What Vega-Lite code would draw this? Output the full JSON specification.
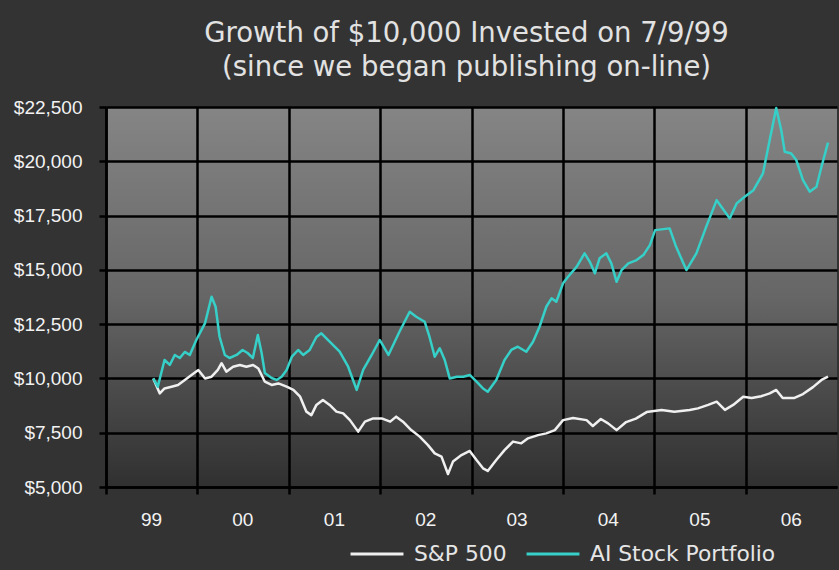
{
  "$schema": "https://vega.github.io/schema/vega-lite/v6.json",
  "autosize": {"type": "none"},
  "width": 731,
  "height": 380,
  "padding": {"left": 106, "top": 107, "right": 2, "bottom": 83},
  "background": "#333333",
  "title": {
    "text": ["Growth of $10,000 Invested on 7/9/99", "(since we began publishing on-line)"],
    "frame": "group",
    "anchor": "middle",
    "offset": 17,
    "dx": -5,
    "font": "DejaVu Sans",
    "fontSize": 27.5,
    "fontWeight": "normal",
    "lineHeight": 34,
    "color": "#e2e2e2"
  },
  "view": {
    "stroke": null,
    "fill": {
      "gradient": "linear",
      "x1": 0, "y1": 0, "x2": 0, "y2": 1,
      "stops": [
        {"offset": 0, "color": "#858585"},
        {"offset": 0.5, "color": "#666666"},
        {"offset": 0.75, "color": "#4a4a4a"},
        {"offset": 1, "color": "#303030"}
      ]
    }
  },
  "data": {
    "values": [
      {"date": "1999-07-09", "series": "S&P 500", "value": 10000},
      {"date": "1999-08-04", "series": "S&P 500", "value": 9310},
      {"date": "1999-08-23", "series": "S&P 500", "value": 9540},
      {"date": "1999-09-20", "series": "S&P 500", "value": 9620},
      {"date": "1999-10-16", "series": "S&P 500", "value": 9700},
      {"date": "1999-11-12", "series": "S&P 500", "value": 9930},
      {"date": "1999-12-09", "series": "S&P 500", "value": 10160},
      {"date": "2000-01-05", "series": "S&P 500", "value": 10390},
      {"date": "2000-02-01", "series": "S&P 500", "value": 10000},
      {"date": "2000-02-27", "series": "S&P 500", "value": 10080},
      {"date": "2000-03-23", "series": "S&P 500", "value": 10390},
      {"date": "2000-04-07", "series": "S&P 500", "value": 10700},
      {"date": "2000-04-26", "series": "S&P 500", "value": 10310},
      {"date": "2000-05-23", "series": "S&P 500", "value": 10540},
      {"date": "2000-06-19", "series": "S&P 500", "value": 10620},
      {"date": "2000-07-15", "series": "S&P 500", "value": 10540},
      {"date": "2000-08-11", "series": "S&P 500", "value": 10620},
      {"date": "2000-09-01", "series": "S&P 500", "value": 10460},
      {"date": "2000-09-27", "series": "S&P 500", "value": 9850},
      {"date": "2000-10-24", "series": "S&P 500", "value": 9700},
      {"date": "2000-11-20", "series": "S&P 500", "value": 9770},
      {"date": "2000-12-23", "series": "S&P 500", "value": 9620},
      {"date": "2001-01-19", "series": "S&P 500", "value": 9470},
      {"date": "2001-02-15", "series": "S&P 500", "value": 9160},
      {"date": "2001-03-12", "series": "S&P 500", "value": 8470},
      {"date": "2001-04-01", "series": "S&P 500", "value": 8310},
      {"date": "2001-04-21", "series": "S&P 500", "value": 8780},
      {"date": "2001-05-17", "series": "S&P 500", "value": 9010},
      {"date": "2001-06-13", "series": "S&P 500", "value": 8780},
      {"date": "2001-07-10", "series": "S&P 500", "value": 8470},
      {"date": "2001-08-06", "series": "S&P 500", "value": 8390},
      {"date": "2001-09-02", "series": "S&P 500", "value": 8080},
      {"date": "2001-10-05", "series": "S&P 500", "value": 7550},
      {"date": "2001-11-01", "series": "S&P 500", "value": 8010},
      {"date": "2001-12-04", "series": "S&P 500", "value": 8160},
      {"date": "2002-01-07", "series": "S&P 500", "value": 8160},
      {"date": "2002-02-10", "series": "S&P 500", "value": 8010},
      {"date": "2002-03-06", "series": "S&P 500", "value": 8240},
      {"date": "2002-04-02", "series": "S&P 500", "value": 8010},
      {"date": "2002-05-05", "series": "S&P 500", "value": 7620},
      {"date": "2002-06-08", "series": "S&P 500", "value": 7320},
      {"date": "2002-07-11", "series": "S&P 500", "value": 6930},
      {"date": "2002-08-07", "series": "S&P 500", "value": 6550},
      {"date": "2002-09-03", "series": "S&P 500", "value": 6400},
      {"date": "2002-09-29", "series": "S&P 500", "value": 5600},
      {"date": "2002-10-19", "series": "S&P 500", "value": 6170},
      {"date": "2002-11-22", "series": "S&P 500", "value": 6470},
      {"date": "2002-12-25", "series": "S&P 500", "value": 6660},
      {"date": "2003-01-21", "series": "S&P 500", "value": 6240},
      {"date": "2003-02-16", "series": "S&P 500", "value": 5860},
      {"date": "2003-03-07", "series": "S&P 500", "value": 5740},
      {"date": "2003-04-10", "series": "S&P 500", "value": 6240},
      {"date": "2003-05-13", "series": "S&P 500", "value": 6700},
      {"date": "2003-06-16", "series": "S&P 500", "value": 7090},
      {"date": "2003-07-19", "series": "S&P 500", "value": 7010},
      {"date": "2003-08-15", "series": "S&P 500", "value": 7240},
      {"date": "2003-09-24", "series": "S&P 500", "value": 7390},
      {"date": "2003-10-27", "series": "S&P 500", "value": 7470},
      {"date": "2003-11-30", "series": "S&P 500", "value": 7620},
      {"date": "2004-01-02", "series": "S&P 500", "value": 8080},
      {"date": "2004-02-11", "series": "S&P 500", "value": 8180},
      {"date": "2004-04-05", "series": "S&P 500", "value": 8080},
      {"date": "2004-04-30", "series": "S&P 500", "value": 7810},
      {"date": "2004-06-01", "series": "S&P 500", "value": 8130},
      {"date": "2004-06-30", "series": "S&P 500", "value": 7930},
      {"date": "2004-08-03", "series": "S&P 500", "value": 7620},
      {"date": "2004-09-10", "series": "S&P 500", "value": 7990},
      {"date": "2004-10-19", "series": "S&P 500", "value": 8150},
      {"date": "2004-12-01", "series": "S&P 500", "value": 8450},
      {"date": "2005-01-30", "series": "S&P 500", "value": 8550},
      {"date": "2005-03-22", "series": "S&P 500", "value": 8470},
      {"date": "2005-05-22", "series": "S&P 500", "value": 8550},
      {"date": "2005-06-24", "series": "S&P 500", "value": 8620},
      {"date": "2005-08-04", "series": "S&P 500", "value": 8780},
      {"date": "2005-09-07", "series": "S&P 500", "value": 8930},
      {"date": "2005-10-10", "series": "S&P 500", "value": 8550},
      {"date": "2005-11-12", "series": "S&P 500", "value": 8780},
      {"date": "2005-12-22", "series": "S&P 500", "value": 9160},
      {"date": "2006-01-25", "series": "S&P 500", "value": 9100},
      {"date": "2006-03-04", "series": "S&P 500", "value": 9180},
      {"date": "2006-04-07", "series": "S&P 500", "value": 9310},
      {"date": "2006-05-03", "series": "S&P 500", "value": 9470},
      {"date": "2006-05-29", "series": "S&P 500", "value": 9100},
      {"date": "2006-07-15", "series": "S&P 500", "value": 9100},
      {"date": "2006-08-18", "series": "S&P 500", "value": 9280},
      {"date": "2006-09-27", "series": "S&P 500", "value": 9600},
      {"date": "2006-10-31", "series": "S&P 500", "value": 9930},
      {"date": "2006-11-26", "series": "S&P 500", "value": 10080},
      {"date": "1999-07-09", "series": "AI Stock Portfolio", "value": 10000},
      {"date": "1999-07-27", "series": "AI Stock Portfolio", "value": 9620},
      {"date": "1999-08-23", "series": "AI Stock Portfolio", "value": 10850},
      {"date": "1999-09-13", "series": "AI Stock Portfolio", "value": 10620},
      {"date": "1999-10-03", "series": "AI Stock Portfolio", "value": 11080},
      {"date": "1999-10-23", "series": "AI Stock Portfolio", "value": 10940},
      {"date": "1999-11-12", "series": "AI Stock Portfolio", "value": 11220},
      {"date": "1999-12-02", "series": "AI Stock Portfolio", "value": 11080},
      {"date": "1999-12-28", "series": "AI Stock Portfolio", "value": 11770},
      {"date": "2000-02-01", "series": "AI Stock Portfolio", "value": 12550},
      {"date": "2000-02-27", "series": "AI Stock Portfolio", "value": 13760},
      {"date": "2000-03-14", "series": "AI Stock Portfolio", "value": 13300},
      {"date": "2000-03-30", "series": "AI Stock Portfolio", "value": 11920},
      {"date": "2000-04-20", "series": "AI Stock Portfolio", "value": 11080},
      {"date": "2000-05-09", "series": "AI Stock Portfolio", "value": 10940},
      {"date": "2000-06-06", "series": "AI Stock Portfolio", "value": 11080},
      {"date": "2000-06-30", "series": "AI Stock Portfolio", "value": 11310},
      {"date": "2000-07-20", "series": "AI Stock Portfolio", "value": 11170},
      {"date": "2000-08-10", "series": "AI Stock Portfolio", "value": 10940},
      {"date": "2000-08-30", "series": "AI Stock Portfolio", "value": 12000},
      {"date": "2000-09-14", "series": "AI Stock Portfolio", "value": 11170},
      {"date": "2000-09-27", "series": "AI Stock Portfolio", "value": 10250},
      {"date": "2000-10-24", "series": "AI Stock Portfolio", "value": 10020},
      {"date": "2000-11-13", "series": "AI Stock Portfolio", "value": 9930},
      {"date": "2000-12-03", "series": "AI Stock Portfolio", "value": 10080},
      {"date": "2000-12-23", "series": "AI Stock Portfolio", "value": 10390},
      {"date": "2001-01-13", "series": "AI Stock Portfolio", "value": 11000},
      {"date": "2001-02-07", "series": "AI Stock Portfolio", "value": 11310},
      {"date": "2001-02-27", "series": "AI Stock Portfolio", "value": 11080},
      {"date": "2001-03-25", "series": "AI Stock Portfolio", "value": 11310},
      {"date": "2001-04-21", "series": "AI Stock Portfolio", "value": 11910},
      {"date": "2001-05-11", "series": "AI Stock Portfolio", "value": 12080},
      {"date": "2001-06-13", "series": "AI Stock Portfolio", "value": 11690},
      {"date": "2001-07-23", "series": "AI Stock Portfolio", "value": 11230},
      {"date": "2001-08-26", "series": "AI Stock Portfolio", "value": 10540},
      {"date": "2001-09-29", "series": "AI Stock Portfolio", "value": 9470},
      {"date": "2001-10-25", "series": "AI Stock Portfolio", "value": 10390},
      {"date": "2001-11-28", "series": "AI Stock Portfolio", "value": 11080},
      {"date": "2001-12-30", "series": "AI Stock Portfolio", "value": 11770},
      {"date": "2002-02-03", "series": "AI Stock Portfolio", "value": 11080},
      {"date": "2002-03-19", "series": "AI Stock Portfolio", "value": 12150},
      {"date": "2002-04-29", "series": "AI Stock Portfolio", "value": 13070},
      {"date": "2002-05-25", "series": "AI Stock Portfolio", "value": 12840},
      {"date": "2002-06-28", "series": "AI Stock Portfolio", "value": 12610},
      {"date": "2002-07-17", "series": "AI Stock Portfolio", "value": 11920},
      {"date": "2002-08-07", "series": "AI Stock Portfolio", "value": 11000},
      {"date": "2002-08-27", "series": "AI Stock Portfolio", "value": 11390},
      {"date": "2002-09-16", "series": "AI Stock Portfolio", "value": 10850},
      {"date": "2002-10-06", "series": "AI Stock Portfolio", "value": 10000},
      {"date": "2002-11-03", "series": "AI Stock Portfolio", "value": 10080},
      {"date": "2002-11-29", "series": "AI Stock Portfolio", "value": 10080},
      {"date": "2002-12-25", "series": "AI Stock Portfolio", "value": 10160},
      {"date": "2003-01-21", "series": "AI Stock Portfolio", "value": 9850},
      {"date": "2003-02-16", "series": "AI Stock Portfolio", "value": 9540},
      {"date": "2003-03-07", "series": "AI Stock Portfolio", "value": 9390},
      {"date": "2003-04-10", "series": "AI Stock Portfolio", "value": 9930},
      {"date": "2003-05-13", "series": "AI Stock Portfolio", "value": 10850},
      {"date": "2003-06-09", "series": "AI Stock Portfolio", "value": 11310},
      {"date": "2003-07-05", "series": "AI Stock Portfolio", "value": 11460},
      {"date": "2003-08-08", "series": "AI Stock Portfolio", "value": 11230},
      {"date": "2003-09-04", "series": "AI Stock Portfolio", "value": 11690},
      {"date": "2003-09-30", "series": "AI Stock Portfolio", "value": 12380},
      {"date": "2003-10-27", "series": "AI Stock Portfolio", "value": 13300},
      {"date": "2003-11-17", "series": "AI Stock Portfolio", "value": 13690},
      {"date": "2003-12-06", "series": "AI Stock Portfolio", "value": 13530},
      {"date": "2004-01-02", "series": "AI Stock Portfolio", "value": 14380},
      {"date": "2004-01-22", "series": "AI Stock Portfolio", "value": 14680},
      {"date": "2004-02-25", "series": "AI Stock Portfolio", "value": 15140},
      {"date": "2004-03-28", "series": "AI Stock Portfolio", "value": 15760},
      {"date": "2004-04-18", "series": "AI Stock Portfolio", "value": 15370},
      {"date": "2004-05-08", "series": "AI Stock Portfolio", "value": 14840},
      {"date": "2004-05-27", "series": "AI Stock Portfolio", "value": 15530},
      {"date": "2004-06-23", "series": "AI Stock Portfolio", "value": 15760},
      {"date": "2004-07-13", "series": "AI Stock Portfolio", "value": 15300},
      {"date": "2004-08-03", "series": "AI Stock Portfolio", "value": 14450},
      {"date": "2004-08-23", "series": "AI Stock Portfolio", "value": 14990},
      {"date": "2004-09-19", "series": "AI Stock Portfolio", "value": 15300},
      {"date": "2004-10-22", "series": "AI Stock Portfolio", "value": 15450},
      {"date": "2004-11-18", "series": "AI Stock Portfolio", "value": 15680},
      {"date": "2004-12-14", "series": "AI Stock Portfolio", "value": 16140},
      {"date": "2005-01-04", "series": "AI Stock Portfolio", "value": 16830},
      {"date": "2005-03-03", "series": "AI Stock Portfolio", "value": 16910},
      {"date": "2005-03-29", "series": "AI Stock Portfolio", "value": 16060},
      {"date": "2005-05-09", "series": "AI Stock Portfolio", "value": 14990},
      {"date": "2005-06-18", "series": "AI Stock Portfolio", "value": 15760},
      {"date": "2005-07-27", "series": "AI Stock Portfolio", "value": 16980},
      {"date": "2005-09-07", "series": "AI Stock Portfolio", "value": 18210},
      {"date": "2005-10-10", "series": "AI Stock Portfolio", "value": 17680},
      {"date": "2005-10-29", "series": "AI Stock Portfolio", "value": 17370},
      {"date": "2005-11-26", "series": "AI Stock Portfolio", "value": 18060},
      {"date": "2005-12-28", "series": "AI Stock Portfolio", "value": 18370},
      {"date": "2006-02-01", "series": "AI Stock Portfolio", "value": 18670},
      {"date": "2006-03-11", "series": "AI Stock Portfolio", "value": 19440},
      {"date": "2006-04-07", "series": "AI Stock Portfolio", "value": 20980},
      {"date": "2006-05-03", "series": "AI Stock Portfolio", "value": 22450},
      {"date": "2006-05-23", "series": "AI Stock Portfolio", "value": 21440},
      {"date": "2006-06-06", "series": "AI Stock Portfolio", "value": 20440},
      {"date": "2006-07-02", "series": "AI Stock Portfolio", "value": 20360},
      {"date": "2006-07-22", "series": "AI Stock Portfolio", "value": 20060},
      {"date": "2006-08-18", "series": "AI Stock Portfolio", "value": 19130},
      {"date": "2006-09-14", "series": "AI Stock Portfolio", "value": 18600},
      {"date": "2006-10-11", "series": "AI Stock Portfolio", "value": 18830},
      {"date": "2006-10-31", "series": "AI Stock Portfolio", "value": 19750},
      {"date": "2006-11-26", "series": "AI Stock Portfolio", "value": 20860}
    ]
  },
  "mark": {"type": "line", "strokeWidth": 2.5, "strokeJoin": "round"},
  "encoding": {
    "x": {
      "field": "date",
      "type": "temporal",
      "scale": {
        "type": "utc",
        "domain": [
          {"year": 1999, "month": 1, "date": 1, "utc": true},
          {"year": 2007, "month": 1, "date": 1, "utc": true}
        ]
      },
      "axis": {
        "title": null,
        "values": [
          {"year": 1999, "month": 1, "date": 1, "utc": true},
          {"year": 2000, "month": 1, "date": 1, "utc": true},
          {"year": 2001, "month": 1, "date": 1, "utc": true},
          {"year": 2002, "month": 1, "date": 1, "utc": true},
          {"year": 2003, "month": 1, "date": 1, "utc": true},
          {"year": 2004, "month": 1, "date": 1, "utc": true},
          {"year": 2005, "month": 1, "date": 1, "utc": true},
          {"year": 2006, "month": 1, "date": 1, "utc": true}
        ],
        "labelExpr": "utcFormat(datum.value, '%y')",
        "labelOffset": 45,
        "labelPadding": 16,
        "labelFlush": false,
        "labelOverlap": false
      }
    },
    "y": {
      "field": "value",
      "type": "quantitative",
      "scale": {"domain": [5000, 22500], "nice": false, "zero": false},
      "axis": {
        "title": null,
        "values": [5000, 7500, 10000, 12500, 15000, 17500, 20000, 22500],
        "format": "$,.0f",
        "labelPadding": 17
      }
    },
    "color": {
      "field": "series",
      "type": "nominal",
      "scale": {
        "domain": ["S&P 500", "AI Stock Portfolio"],
        "range": ["#f0f0f0", "#36d0c8"]
      },
      "legend": {
        "title": null,
        "orient": "none",
        "direction": "horizontal",
        "legendX": 243,
        "legendY": 419,
        "symbolType": "stroke",
        "symbolSize": 2800,
        "symbolStrokeWidth": 3,
        "labelFont": "DejaVu Sans",
        "labelFontSize": 21.8,
        "labelColor": "#e6e6e6",
        "labelOffset": 9,
        "columnPadding": 13,
        "labelLimit": 400
      }
    }
  },
  "config": {
    "axis": {
      "domainColor": "#000000",
      "domainWidth": 2.5,
      "gridColor": "#000000",
      "gridWidth": 2.5,
      "gridOpacity": 1,
      "grid": true,
      "tickColor": "#000000",
      "tickWidth": 2.5,
      "tickSize": 7,
      "labelFont": "Liberation Sans",
      "labelFontSize": 19,
      "labelColor": "#f2f2f2"
    }
  }
}
